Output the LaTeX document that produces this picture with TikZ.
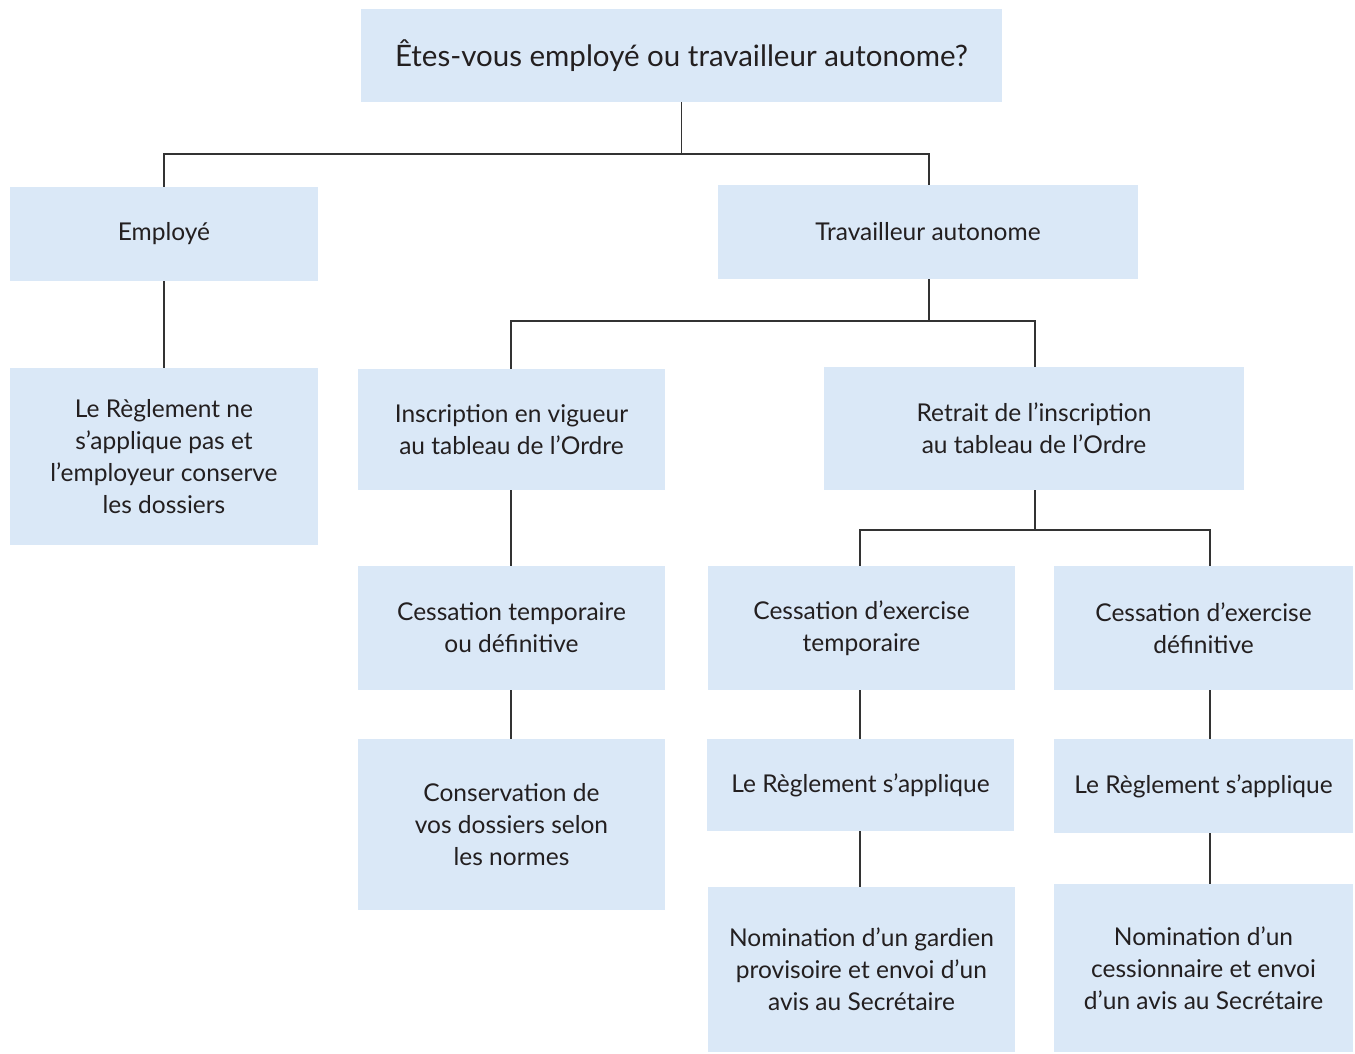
\documentclass[tikz,border=0pt]{standalone}
\usepackage{fontspec}
\setmainfont{Lato}
\usetikzlibrary{calc}
\definecolor{boxblue}{HTML}{DAE8F7}
\definecolor{txt}{HTML}{231F20}
\definecolor{lin}{HTML}{333333}
\begin{document}
\begin{tikzpicture}[x=1pt,y=-1pt,
  box/.style={fill=boxblue, draw=none, inner sep=0pt, align=center, text=txt,
    font=\fontsize{24.5}{32}\selectfont},
  conn/.style={draw=lin, line width=1.3pt}]
\useasboundingbox[fill=white] (0,0) rectangle (1355,1053);
\node[box, minimum width=641, minimum height=93, font=\fontsize{29.5}{32}\selectfont] (q) at (681.5,55.5) {Êtes-vous employé ou travailleur autonome?};
\node[box, minimum width=308, minimum height=94] (emp) at (164,234) {Employé};
\node[box, minimum width=420, minimum height=94] (ta) at (928,232) {Travailleur autonome};
\node[box, minimum width=308, minimum height=177] (reg0) at (164,456.5) {Le Règlement ne\\s’applique pas et\\l’employeur conserve\\les dossiers};
\node[box, minimum width=307, minimum height=121] (insc) at (511.5,429.5) {Inscription en vigueur\\au tableau de l’Ordre};
\node[box, minimum width=420, minimum height=123] (ret) at (1034,428.5) {Retrait de l’inscription\\au tableau de l’Ordre};
\node[box, minimum width=307, minimum height=124] (cess) at (511.5,628) {Cessation temporaire\\ou définitive};
\node[box, minimum width=307, minimum height=171] (cons) at (511.5,824.5) {Conservation de\\vos dossiers selon\\les normes};
\node[box, minimum width=307, minimum height=124] (cet) at (861.5,628) {Cessation d’exercise\\temporaire};
\node[box, minimum width=299, minimum height=124] (ced) at (1203.5,628) {Cessation d’exercise\\définitive};
\node[box, minimum width=307, minimum height=92] (rs1) at (860.5,785) {Le Règlement s’applique};
\node[box, minimum width=299, minimum height=94] (rs2) at (1203.5,786) {Le Règlement s’applique};
\node[box, minimum width=307, minimum height=165] (nom1) at (861.5,969.5) {Nomination d’un gardien\\provisoire et envoi d’un\\avis au Secrétaire};
\node[box, minimum width=299, minimum height=168] (nom2) at (1203.5,968) {Nomination d’un\\cessionnaire et envoi\\d’un avis au Secrétaire};
% connectors
\draw[conn] (q.south) -- (q.south |- 0,154) -| (emp.north);
\draw[conn] (q.south |- 0,154) -| (929,0 |- ta.north);
\draw[conn] (929,0 |- ta.south) -- (929,321) -| (511,0 |- insc.north);
\draw[conn] (929,321) -| (1035,0 |- ret.north);
\draw[conn] (emp.south) -- (reg0.north);
\draw[conn] (511,0 |- insc.south) -- (511,0 |- cess.north);
\draw[conn] (511,0 |- cess.south) -- (511,0 |- cons.north);
\draw[conn] (1035,0 |- ret.south) -- (1035,530) -| (860,0 |- cet.north);
\draw[conn] (1035,530) -| (1210,0 |- ced.north);
\draw[conn] (860,0 |- cet.south) -- (860,0 |- rs1.north);
\draw[conn] (860,0 |- rs1.south) -- (860,0 |- nom1.north);
\draw[conn] (1210,0 |- ced.south) -- (1210,0 |- rs2.north);
\draw[conn] (1210,0 |- rs2.south) -- (1210,0 |- nom2.north);
\end{tikzpicture}
\end{document}
